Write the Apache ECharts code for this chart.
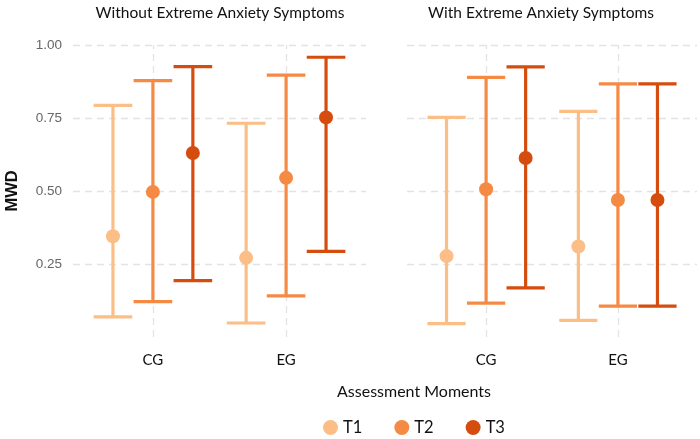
<!DOCTYPE html>
<html>
<head>
<meta charset="utf-8">
<script src="https://cdn.jsdelivr.net/npm/echarts@6/dist/echarts.min.js"></script>
<style>html,body{margin:0;padding:0;background:#fff}#c{width:700px;height:439px}</style>
</head>
<body>
<div id="c"></div>
<script>
const groups = ['CG', 'EG'];
const times = ['T1', 'T2', 'T3'];
const panelTitles = ['Without Extreme Anxiety Symptoms', 'With Extreme Anxiety Symptoms'];
const yTicks = [0.25, 0.50, 0.75, 1.00];
const colors = ['#FBBE86', '#F58A45', '#D44D0E'];

// rows: T1, T2, T3 ; columns: CG, EG
const withoutMean = [[0.345, 0.271], [0.497, 0.545], [0.630, 0.752]];
const withoutLow  = [[0.069, 0.048], [0.121, 0.141], [0.193, 0.293]];
const withoutHigh = [[0.793, 0.732], [0.878, 0.897], [0.926, 0.958]];

const withMean = [[0.277, 0.310], [0.506, 0.469], [0.613, 0.469]];
const withLow  = [[0.046, 0.057], [0.116, 0.106], [0.168, 0.106]];
const withHigh = [[0.752, 0.773], [0.889, 0.867], [0.925, 0.867]];

const panels = [
  {mean: withoutMean, low: withoutLow, high: withoutHigh},
  {mean: withMean, low: withLow, high: withHigh}
];
const dodge = [-0.3, 0, 0.3];
const capUnits = 0.29;

const chart = echarts.init(document.getElementById('c'), null, {renderer: 'canvas'});

const gridsPx = [{left: 73, width: 293}, {left: 407, width: 292}];
const grid = gridsPx.map(g => ({left: g.left, width: g.width, top: 45, height: 292, containLabel: false}));

const gridLineStyle = {color: '#E3E3E3', width: 1.3, type: [7, 5]};

const xAxis = grid.map((g, i) => ({
  type: 'value', gridIndex: i, min: 0.4, max: 2.6,
  axisLine: {show: false}, axisTick: {show: false}, splitLine: {show: false},
  axisLabel: {
    margin: 16, color: '#111', fontSize: 15, fontFamily: 'Lato',
    formatter: v => (Math.abs(v - 1) < 1e-6 ? groups[0] : (Math.abs(v - 2) < 1e-6 ? groups[1] : ''))
  }
}));

const yAxis = grid.map((g, i) => ({
  type: 'value', gridIndex: i, min: 0, max: 1, interval: 0.25,
  axisLine: {show: false}, axisTick: {show: false},
  splitLine: {show: true, showMinLine: false, lineStyle: gridLineStyle},
  axisLabel: {
    show: i === 0, showMinLabel: false, margin: 11, color: '#666', fontSize: 13.5,
    fontFamily: 'Liberation Sans',
    formatter: v => (yTicks.some(t => Math.abs(t - v) < 1e-6) ? v.toFixed(2) : '')
  },
  name: i === 0 ? 'MWD' : '', nameLocation: 'middle', nameGap: 52, nameRotate: 90,
  nameTextStyle: {color: '#111', fontSize: 16.5, fontWeight: 'bold', fontFamily: 'Liberation Sans'}
}));

const series = [];
panels.forEach((p, pi) => {
  // vertical dashed gridlines at category positions
  series.push({
    type: 'line', xAxisIndex: pi, yAxisIndex: pi, data: [], silent: true, z: 0,
    markLine: {
      silent: true, symbol: 'none', label: {show: false}, z: 0,
      lineStyle: gridLineStyle,
      data: groups.map((g, gi) => ({xAxis: gi + 1}))
    }
  });
  times.forEach((t, ti) => {
    const data = groups.map((g, gi) => [gi + 1 + dodge[ti], p.low[ti][gi], p.high[ti][gi]]);
    series.push({
      name: t, type: 'custom', xAxisIndex: pi, yAxisIndex: pi, z: 3,
      itemStyle: {color: colors[ti]},
      renderItem: (params, api) => {
        const x = api.value(0);
        const lo = api.coord([x, api.value(1)]);
        const hi = api.coord([x, api.value(2)]);
        const half = api.size([capUnits, 0])[0] / 2;
        const st = {stroke: colors[ti], lineWidth: 3.2};
        return {
          type: 'group',
          children: [
            {type: 'line', shape: {x1: lo[0], y1: lo[1], x2: hi[0], y2: hi[1]}, style: st},
            {type: 'line', shape: {x1: hi[0] - half, y1: hi[1], x2: hi[0] + half, y2: hi[1]}, style: st},
            {type: 'line', shape: {x1: lo[0] - half, y1: lo[1], x2: lo[0] + half, y2: lo[1]}, style: st}
          ]
        };
      },
      encode: {x: 0, y: [1, 2]},
      data: data
    });
    series.push({
      name: t, type: 'scatter', xAxisIndex: pi, yAxisIndex: pi, z: 4,
      symbol: 'circle', symbolSize: 14,
      itemStyle: {color: colors[ti], opacity: 1},
      data: groups.map((g, gi) => [gi + 1 + dodge[ti], p.mean[ti][gi]])
    });
  });
});

chart.setOption({
  animation: false,
  backgroundColor: '#fff',
  grid: grid,
  xAxis: xAxis,
  yAxis: yAxis,
  legend: {
    data: times.map((t, ti) => ({name: t, icon: 'circle', itemStyle: {color: colors[ti]}})),
    left: 323, top: 419, padding: 0, itemWidth: 15, itemHeight: 15, itemGap: 32,
    textStyle: {color: '#111', fontSize: 16.5, fontFamily: 'Lato'},
    selectedMode: false
  },
  graphic: [
    {type: 'text', x: 220, y: 5, style: {text: panelTitles[0], fill: '#111', font: '15.5px Lato', textAlign: 'center', textVerticalAlign: 'top'}},
    {type: 'text', x: 541, y: 5, style: {text: panelTitles[1], fill: '#111', font: '15.5px Lato', textAlign: 'center', textVerticalAlign: 'top'}},
    {type: 'text', x: 414, y: 384, style: {text: 'Assessment Moments', fill: '#111', font: '16px Lato', textAlign: 'center', textVerticalAlign: 'top'}}
  ],
  series: series
});
</script>
</body>
</html>
